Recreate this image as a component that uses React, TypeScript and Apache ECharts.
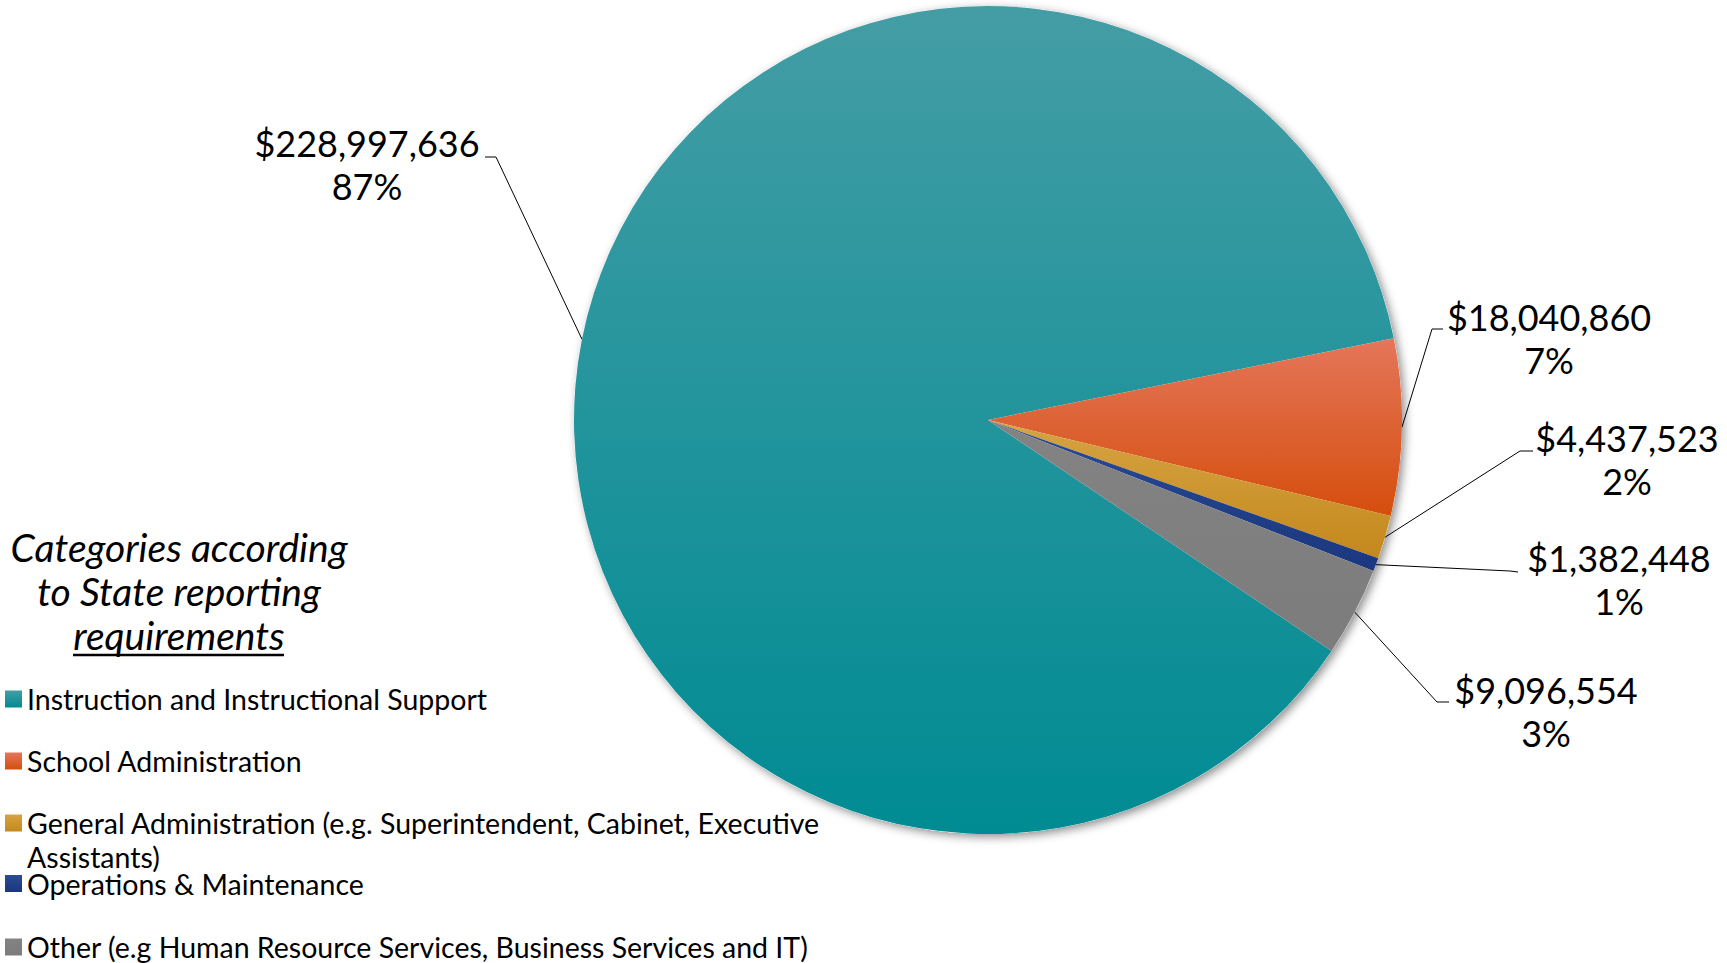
import React, { useEffect, useRef } from "react";
import * as echarts from "echarts";

const categories = [
  "Instruction and Instructional Support",
  "School Administration",
  "General Administration (e.g. Superintendent, Cabinet, Executive Assistants)",
  "Operations & Maintenance",
  "Other (e.g Human Resource Services, Business Services and IT)",
];
const amounts = [228997636, 18040860, 4437523, 1382448, 9096554];

const topColors = ["#449DA5", "#E4765A", "#D6A444", "#2B4B92", "#838383"];
const bottomColors = ["#008B93", "#D54E0C", "#C4881C", "#1A377F", "#7C7C7C"];

const legendTitle = ["Categories according", "to State reporting", "requirements"];

// label placements (layout only)
const labelAnchors = [
  { x: 367, y: 164, bend: [496, 157], end: [485, 157] },
  { x: 1549, y: 338, bend: [1432, 329], end: [1443, 329] },
  { x: 1627, y: 459, bend: [1520, 451], end: [1533, 451] },
  { x: 1619, y: 579, bend: [1510, 571], end: [1518, 572] },
  { x: 1546, y: 711, bend: [1437, 702], end: [1449, 702] },
];

const FONT = "Lato, 'Noto Sans', sans-serif";

function grad(i: number) {
  return new echarts.graphic.LinearGradient(0, 0, 0, 1, [
    { offset: 0, color: topColors[i] },
    { offset: 1, color: bottomColors[i] },
  ]);
}

export default function App() {
  const ref = useRef<HTMLDivElement>(null);
  useEffect(() => {
    if (!ref.current) return;
    const chart = echarts.init(ref.current, null, { renderer: "svg" });
    const total = amounts.reduce((a, b) => a + b, 0);
    const center = [988, 420];
    const radius = 414;
    const legendText = {
      fontFamily: FONT,
      fontSize: 28.5,
      color: "#000",
      lineHeight: 34,
    };
    const legendBase = {
      orient: "vertical",
      left: 5,
      padding: 0,
      itemWidth: 17,
      itemHeight: 17,
      itemGap: 28,
      height: 300,
      icon: "rect",
      selectedMode: false,
      textStyle: legendText,
    };
    const option: any = {
      animation: false,
      backgroundColor: "#fff",
      legend: [
        { ...legendBase, top: 682, data: [categories[0], categories[1]] },
        {
          ...legendBase,
          top: 772,
          data: [categories[2]],
          formatter: (name: string) => "\n" + name.replace(/ (\S+)$/, "\n$1"),
        },
        {
          ...legendBase,
          top: 869,
          itemGap: 34.5,
          data: [categories[3], categories[4]],
          textStyle: { ...legendText, lineHeight: 20 },
        },
      ],
      graphic: [
        {
          type: "text",
          x: 179,
          y: 591,
          style: {
            text: legendTitle.join("\n"),
            font: `italic 39px ${FONT}`,
            fill: "#000",
            align: "center",
            verticalAlign: "middle",
            lineHeight: 44,
          },
        },
        {
          type: "line",
          shape: { x1: 73, y1: 655, x2: 284, y2: 655 },
          style: { stroke: "#000", lineWidth: 2.5 },
        },
      ],
      series: [
        {
          type: "pie",
          center,
          radius,
          silent: true,
          z: 1,
          label: { show: false },
          labelLine: { show: false },
          itemStyle: {
            color: "#fff",
            shadowBlur: 10,
            shadowColor: "rgba(0,0,0,0.45)",
            shadowOffsetX: 3,
            shadowOffsetY: 3,
          },
          data: [{ name: "total", value: total }],
        },
        {
          type: "pie",
          center,
          radius,
          z: 2,
          startAngle: 326.1,
          clockwise: true,
          avoidLabelOverlap: false,
          data: categories.map((name, i) => ({
            name,
            value: amounts[i],
            itemStyle: { color: grad(i) },
          })),
          label: {
            show: true,
            position: "outside",
            fontFamily: FONT,
            fontSize: 36,
            lineHeight: 43,
            color: "#000",
            formatter: (p: any) =>
              `$${Number(p.value).toLocaleString("en-US")}\n${Math.round(p.percent)}%`,
          },
          labelLine: {
            show: true,
            lineStyle: { color: "#000", width: 1 },
          },
          labelLayout: (params: any) => {
            const a = labelAnchors[params.dataIndex];
            const start = params.labelLinePoints
              ? params.labelLinePoints[0]
              : a.bend;
            return {
              x: a.x,
              y: a.y,
              align: "center",
              verticalAlign: "middle",
              labelLinePoints: [start, a.bend, a.end],
            };
          },
        },
      ],
    };
    chart.setOption(option);
    return () => chart.dispose();
  }, []);
  return (
    <div
      ref={ref}
      style={{ position: "fixed", left: 0, top: 0, width: 1727, height: 963 }}
    />
  );
}
